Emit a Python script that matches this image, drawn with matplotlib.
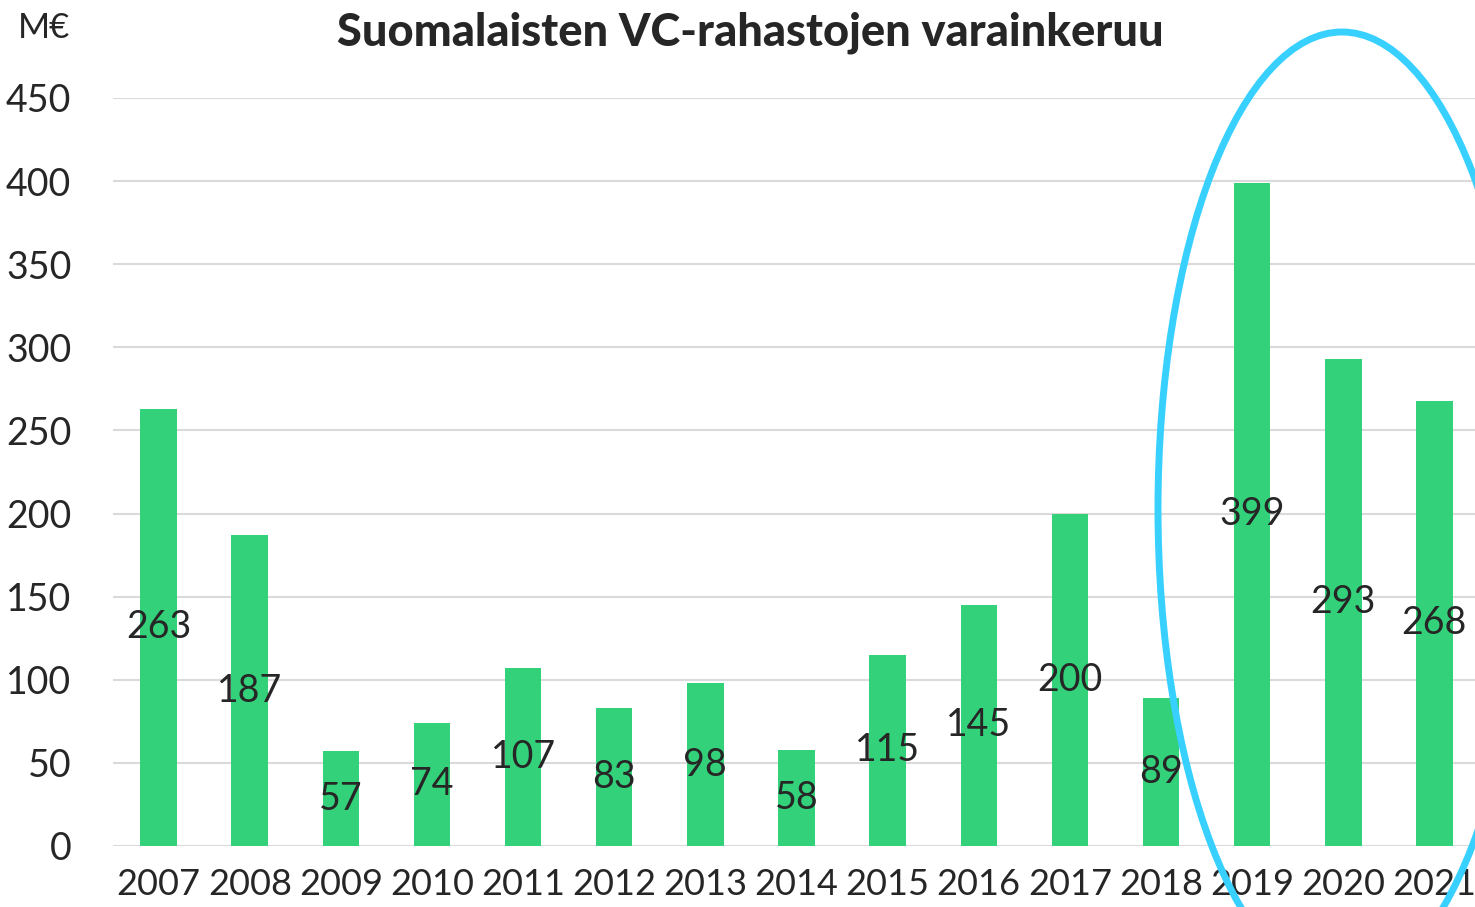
import matplotlib
matplotlib.use('Agg')
import matplotlib.pyplot as plt
from matplotlib.patches import Ellipse

# data
years = ['2007', '2008', '2009', '2010', '2011', '2012', '2013', '2014',
         '2015', '2016', '2017', '2018', '2019', '2020', '2021']
values = [263, 187, 57, 74, 107, 83, 98, 58, 115, 145, 200, 89, 399, 293, 268]
yticks = [0, 50, 100, 150, 200, 250, 300, 350, 400, 450]

plt.rcParams['font.family'] = ['Lato', 'DejaVu Sans']
txt = '#262626'
green = '#33D17A'

W, H = 1475, 907
fig = plt.figure(figsize=(W / 100, H / 100), dpi=100)
ax = fig.add_axes([113 / W, 1 - 846 / H, (1480 - 113) / W, (846 - 98) / H])

x = list(range(len(years)))
ax.bar(x, values, width=0.4, color=green, zorder=3)
for xi, v in zip(x, values):
    ax.text(xi, v / 2, str(v), ha='center', va='center', fontsize=27,
            color=txt, zorder=4)

ax.set_xlim(-0.5, len(years) - 0.5)
ax.set_ylim(0, 450)
ax.set_yticks(yticks)
ax.set_xticks(x)
ax.set_xticklabels(years)
ax.tick_params(axis='both', length=0, labelsize=27, labelcolor=txt)
ax.tick_params(axis='y', pad=30)
ax.tick_params(axis='x', labelsize=26, pad=16)
ax.yaxis.grid(True, color='#DADADA', linewidth=1.5, zorder=0)
ax.set_axisbelow(True)
for s in ax.spines.values():
    s.set_visible(False)

fig.text(750 / W, 1 - 33 / H, 'Suomalaisten VC-rahastojen varainkeruu',
         ha='center', va='center', fontsize=32.5, fontweight='black', color=txt)
fig.text(44 / W, 1 - 28 / H, 'M€', ha='center', va='center', fontsize=25,
         color=txt)

# highlight ellipse
ell = Ellipse((1342 / W, 1 - 509 / H), width=2 * 184 / W, height=2 * 477 / H,
              transform=fig.transFigure, fill=False, edgecolor='#38D0FF',
              linewidth=5, zorder=10)
fig.add_artist(ell)

fig.savefig('out.png', dpi=100)
